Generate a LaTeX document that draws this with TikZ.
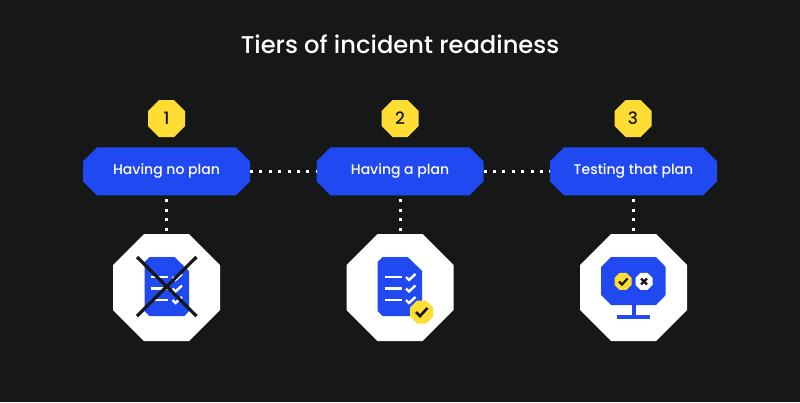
\documentclass[tikz,border=0pt]{standalone}
\usepackage{fontspec}
\setmainfont{Poppins Medium}
\usetikzlibrary{calc}
\definecolor{bg}{HTML}{151817}
\definecolor{blu}{HTML}{2049F2}
\definecolor{yel}{HTML}{FFDD33}
\tikzset{
 x=1pt,y=-1pt,
 tiertext/.style={text=white,font=\fontsize{14}{16}\selectfont},
 numtext/.style={text=bg,font=\fontsize{17}{18}\selectfont},
 dotline/.style={white,line width=3pt,dash pattern=on 3pt off 6.4pt},
 listline/.style={white,line width=2.2pt},
 tick/.style={white,line width=2.4pt},
 darktick/.style={bg,line width=2.2pt},
 cross/.style={bg,line width=3.2pt},
 docfill/.style={fill=blu,draw=none},
 slot/.style={rectangle,inner sep=0pt,outer sep=0pt},
}
% \chamf{name}{x}{y}{w}{h}{cut}{fill}{node style}{text}
\newcommand{\chamf}[9]{%
 \fill[#7] ($(#2,#3)+(-#4/2+#6,-#5/2)$) -- ($(#2,#3)+(#4/2-#6,-#5/2)$) -- ($(#2,#3)+(#4/2,-#5/2+#6)$) -- ($(#2,#3)+(#4/2,#5/2-#6)$) -- ($(#2,#3)+(#4/2-#6,#5/2)$) -- ($(#2,#3)+(-#4/2+#6,#5/2)$) -- ($(#2,#3)+(-#4/2,#5/2-#6)$) -- ($(#2,#3)+(-#4/2,-#5/2+#6)$) -- cycle;
 \node[slot,minimum width=#4pt,minimum height=#5pt,#8] (#1) at (#2,#3) {#9};}
\newcommand{\docshape}[1]{%
 \fill[docfill,shift={(#1,257)}] (5,0) -- (30,0) -- (44.5,14) -- (44.5,54) -- (40,59) -- (5,59) -- (0,54) -- (0,5) -- cycle;}
\newcommand{\listrows}[1]{%
 \begin{scope}[shift={(#1,0)}]
 \foreach \yy in {277,288.5,300}{
  \draw[listline] (0,\yy) -- (17,\yy);
  \draw[tick] (21.5,\yy) -- (24.5,\yy+3) -- (31,\yy-3);
 }
 \end{scope}}
\begin{document}
\begin{tikzpicture}
\useasboundingbox[fill=bg] (0,0) rectangle (800,402);
\node[text=white,font=\fontsize{24.2}{28}\selectfont] (title) at (400,44) {Tiers of incident readiness};
\chamf{n1}{166.5}{118.5}{37}{37}{11}{yel}{numtext}{1}
\chamf{n2}{400}{118.5}{37}{37}{11}{yel}{numtext}{2}
\chamf{n3}{633}{118.5}{37}{37}{11}{yel}{numtext}{3}
\chamf{b1}{166.5}{171.3}{167}{48}{14}{blu}{tiertext}{Having no plan}
\chamf{b2}{400}{171.3}{167}{48}{14}{blu}{tiertext}{Having a plan}
\chamf{b3}{633.5}{171.3}{167}{48}{14}{blu}{tiertext}{Testing that plan}
\chamf{w1}{166.5}{287.5}{107}{107}{31}{white}{}{}
\chamf{w2}{400}{287.5}{107}{107}{31}{white}{}{}
\chamf{w3}{633.5}{287.5}{107}{107}{31}{white}{}{}
\draw[dotline] (b1.east) -- (b2.west);
\draw[dotline] (b2.east) -- (b3.west);
\draw[dotline] (b1.south) ++(0,4) -- (w1.north);
\draw[dotline] (b2.south) ++(0,4) -- (w2.north);
\draw[dotline] (b3.south) ++(0,4) -- (w3.north);
% icon 1
\docshape{144.5}
\listrows{151}
\draw[cross] (137,257) -- (196.5,316);
\draw[cross] (196.5,257) -- (137,316);
% icon 2
\docshape{377.7}
\listrows{384.5}
\chamf{c2}{421.7}{312}{23}{23}{7}{yel}{}{}
\draw[darktick,line width=2.6pt] (416,312) -- (420,316) -- (427.5,308);
% icon 3
\fill[docfill] (611,257) -- (656,257) -- (665.7,267) -- (665.7,295) -- (656,305) -- (611,305) -- (601,295) -- (601,267) -- cycle;
\fill[blu] (631.7,305) rectangle (635.5,316);
\fill[blu] (616.7,315.3) rectangle (650,319);
\chamf{c3a}{623}{281.3}{17}{17}{5}{yel}{}{}
\chamf{c3b}{644}{281.3}{17}{17}{5}{white}{}{}
\draw[darktick] (619,281.5) -- (622,284.5) -- (627.5,278.5);
\draw[darktick] (641,278.5) -- (647,284.5) (647,278.5) -- (641,284.5);
\end{tikzpicture}
\end{document}
